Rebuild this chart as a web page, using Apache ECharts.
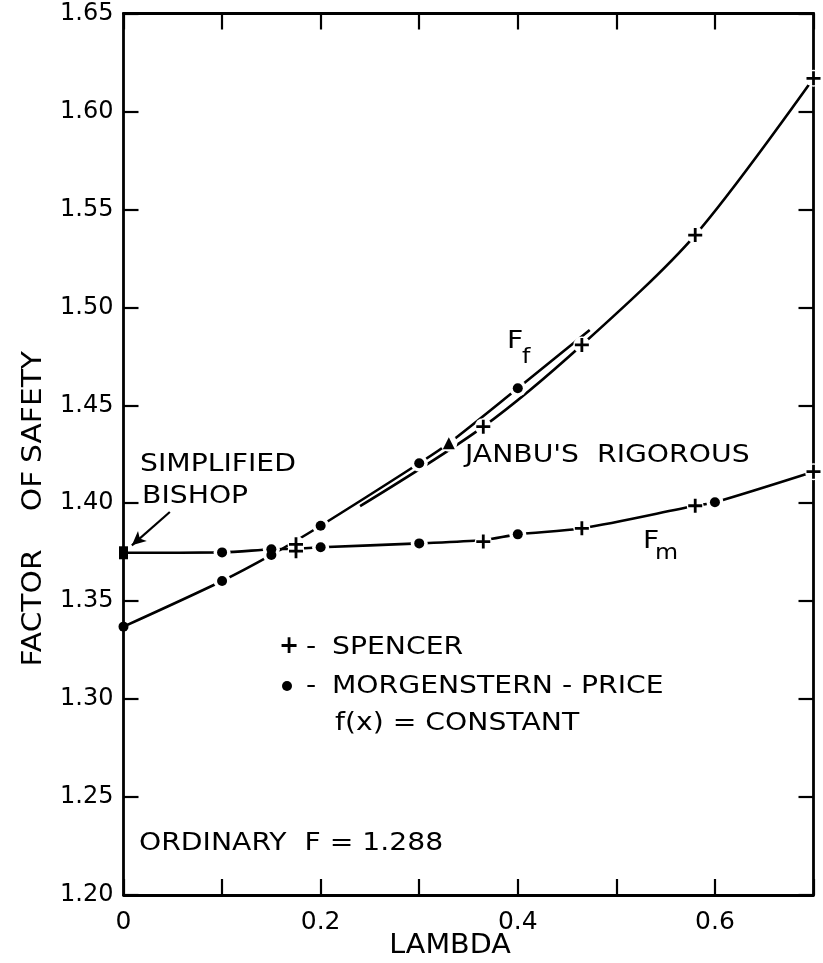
<!DOCTYPE html>
<html>
<head>
<meta charset="utf-8">
<title>Factor of safety versus lambda</title>
<script src="https://cdn.jsdelivr.net/npm/echarts@6/dist/echarts.min.js"></script>
<style>
  html, body { margin: 0; padding: 0; background: #fff; }
  #chart { width: 823px; height: 963px; }
</style>
</head>
<body>
<div id="chart"></div>
<script>
// Tick labels
const xTickLabels = ['0', '', '0.2', '', '0.4', '', '0.6', ''];
const yTickLabels = ['1.20', '1.25', '1.30', '1.35', '1.40', '1.45', '1.50', '1.55', '1.60', '1.65'];

// Morgenstern-Price results, f(x) = constant
const mpFfLambda = [0, 0.1, 0.15, 0.2, 0.3, 0.4];
const mpFf = [1.337, 1.3603, 1.3736, 1.3885, 1.4204, 1.4587];
const mpFmLambda = [0.1, 0.15, 0.2, 0.3, 0.4, 0.6];
const mpFm = [1.3749, 1.3765, 1.3775, 1.3795, 1.3841, 1.4005];

// Spencer results
const spencerLambda = [0.175, 0.365, 0.465, 0.58, 0.7];
const spencerFf = [1.379, 1.4391, 1.4808, 1.5369, 1.6169];
const spencerFm = [1.3755, 1.3804, 1.3872, 1.3987, 1.4161];

// Janbu's rigorous and simplified Bishop
const janbuLambda = [0.33];
const janbuF = [1.4306];
const bishopLambda = [0];
const bishopF = [1.3747];

// Faired curves drawn through the results
const ffCurveLambda = [0, 0.1, 0.15, 0.2, 0.3, 0.33, 0.4, 0.473];
const ffCurve = [1.337, 1.3603, 1.3736, 1.3885, 1.4204, 1.4306, 1.4587, 1.4884];
const ffSpencerCurveLambda = [0.24, 0.365, 0.465, 0.58, 0.7];
const ffSpencerCurve = [1.3985, 1.4391, 1.4808, 1.5369, 1.6169];
const fmCurveLambda = [0, 0.1, 0.15, 0.175, 0.2, 0.3, 0.365, 0.4, 0.465, 0.58, 0.6, 0.7];
const fmCurve = [1.3747, 1.3749, 1.3765, 1.3767, 1.3775, 1.3795, 1.3812, 1.3841, 1.3872, 1.3987, 1.4005, 1.4161];

const pairs = (xs, ys) => xs.map((x, i) => [x, ys[i]]);

const INK = '#000';
const FONT = 'DejaVu Sans';
const crossPath = 'path://M0,4.4H4.4V0H6.6V4.4H11V6.6H6.6V11H4.4V6.6H0Z';

const mpPoints = pairs(mpFfLambda, mpFf).concat(pairs(mpFmLambda, mpFm));
const spencerPoints = pairs(spencerLambda, spencerFf).concat(pairs(spencerLambda, spencerFm));
const janbuPoints = pairs(janbuLambda, janbuF);
// white rings that open small gaps in the curves around each symbol
const haloPoints = mpPoints.concat(spencerPoints, janbuPoints).filter(p => p[0] > 0);

const curveLine = (xs, ys) => ({
  type: 'line',
  data: pairs(xs, ys),
  smooth: 0.3,
  showSymbol: false,
  lineStyle: { color: INK, width: 2.6 },
  z: 2,
  silent: true
});

const marks = (name, data, symbol, size, z) => ({
  type: 'scatter', name, data, symbol, symbolSize: size,
  itemStyle: { color: INK, opacity: 1 }, z: z, silent: true
});

// lettering: slightly widened DejaVu Sans
const label = (text, x, y, size, extra) => Object.assign({
  type: 'text', x, y, scaleX: 1.13,
  style: { text, x: 0, y: 0, fill: INK, font: size + 'px "DejaVu Sans"', textVerticalAlign: 'middle' }
}, extra || {});

const titleWord = (text, cy) => ({
  type: 'text', x: 34, y: cy, rotation: Math.PI / 2, scaleX: 1.1,
  style: { text, x: 0, y: 0, fill: INK, font: '27px "DejaVu Sans"', textAlign: 'center', textVerticalAlign: 'middle' }
});

const tick = { show: true, inside: true, lineStyle: { color: INK, width: 2.2 } };
const axisLine = { show: true, onZero: false, lineStyle: { color: INK, width: 2.8 } };

const option = {
  animation: false,
  backgroundColor: '#fff',
  grid: { left: 123.5, right: 9.5, top: 13.5, bottom: 68 },
  xAxis: [
    {
      type: 'value', position: 'bottom', min: 0, max: 0.7, interval: 0.1,
      axisLine, splitLine: { show: false },
      axisTick: Object.assign({ length: 16 }, tick),
      axisLabel: {
        color: INK, fontFamily: FONT, fontSize: 25, margin: 15,
        formatter: v => xTickLabels[Math.round(v * 10)]
      }
    },
    {
      type: 'value', position: 'top', min: 0, max: 0.7, interval: 0.1,
      axisLine, splitLine: { show: false },
      axisTick: Object.assign({ length: 16 }, tick),
      axisLabel: { show: false }
    }
  ],
  yAxis: [
    {
      type: 'value', position: 'left', min: 1.2, max: 1.65, interval: 0.05,
      axisLine, splitLine: { show: false },
      axisTick: Object.assign({ length: 15 }, tick),
      axisLabel: {
        color: INK, fontFamily: FONT, fontSize: 24, margin: 10,
        formatter: v => yTickLabels[Math.round((v - 1.2) / 0.05)]
      }
    },
    {
      type: 'value', position: 'right', min: 1.2, max: 1.65, interval: 0.05,
      axisLine, splitLine: { show: false },
      axisTick: Object.assign({ length: 15 }, tick),
      axisLabel: { show: false }
    }
  ],
  series: [
    curveLine(ffCurveLambda, ffCurve),
    curveLine(ffSpencerCurveLambda, ffSpencerCurve),
    curveLine(fmCurveLambda, fmCurve),
    {
      type: 'scatter', data: haloPoints, symbol: 'circle', symbolSize: 17,
      itemStyle: { color: '#fff', opacity: 1 }, z: 3, silent: true
    },
    marks('MORGENSTERN - PRICE', mpPoints, 'circle', 10, 5),
    marks('SPENCER', spencerPoints, crossPath, 14, 5),
    marks("JANBU'S RIGOROUS", janbuPoints, 'triangle', 12, 5),
    Object.assign(marks('SIMPLIFIED BISHOP', pairs(bishopLambda, bishopF), 'rect', [9, 13], 5), {
      markLine: {
        silent: true, animation: false,
        symbol: ['none', 'arrow'], symbolSize: [10, 14],
        lineStyle: { color: INK, width: 2.2, type: 'solid' },
        label: { show: false },
        data: [[{ coord: [0.047, 1.3955] }, { coord: [0.0085, 1.3785] }]]
      }
    })
  ],
  graphic: [
    titleWord('FACTOR', 608),
    titleWord('OF', 491),
    titleWord('SAFETY', 407),
    {
      type: 'text', x: 450, y: 946, scaleX: 1.1,
      style: { text: 'LAMBDA', x: 0, y: 0, fill: INK, font: '26px "DejaVu Sans"', textAlign: 'center', textVerticalAlign: 'middle' }
    },
    label('SIMPLIFIED', 140, 464, 25),
    label('BISHOP', 142, 496, 25),
    label("JANBU'S  RIGOROUS", 465, 455, 25),
    label('F', 507, 341, 25),
    label('f', 522, 358, 21),
    label('F', 643, 541, 25),
    label('m', 655, 554, 21),
    {
      type: 'text', x: 289, y: 647,
      style: { text: '+', x: 0, y: 0, fill: INK, font: 'bold 24px "DejaVu Sans"', textAlign: 'center', textVerticalAlign: 'middle' }
    },
    label('-', 306, 647, 25),
    label('SPENCER', 332, 647, 25),
    { type: 'circle', shape: { cx: 287, cy: 686, r: 5 }, style: { fill: INK } },
    label('-', 306, 686, 25),
    label('MORGENSTERN - PRICE', 332, 686, 25),
    label('f(x) = CONSTANT', 335, 723, 25),
    label('ORDINARY  F = 1.288', 139, 843, 25)
  ]
};

const chart = echarts.init(document.getElementById('chart'), null, { renderer: 'canvas' });
chart.setOption(option);
</script>
</body>
</html>
